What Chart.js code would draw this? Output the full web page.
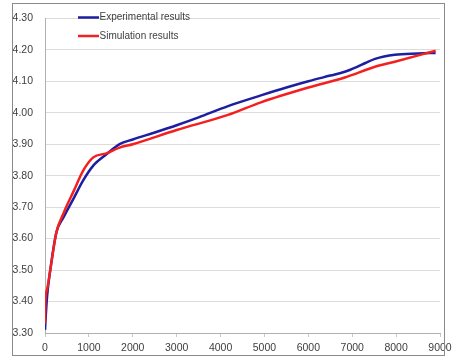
<!DOCTYPE html>
<html>
<head>
<meta charset="utf-8">
<script src="https://cdn.jsdelivr.net/npm/chart.js@4.4.0/dist/chart.umd.min.js"></script>
<style>
  html, body { margin: 0; padding: 0; background: #fff; }
  #wrap { position: relative; width: 457px; height: 360px; }
  #frame { position: absolute; left: 12px; top: 3px; width: 433px; height: 353px; border: 1px solid #8a8a8a; box-sizing: border-box; pointer-events: none; }
  canvas { position: absolute; left: 0; top: 0; }
</style>
</head>
<body>
<div id="wrap">
  <canvas id="c" width="457" height="360"></canvas>
  <div id="frame"></div>
</div>
<script>
// Data
const seriesNames = ['Experimental results', 'Simulation results'];

const expX = [0, 20, 50, 120, 260, 420, 650, 870, 1100, 1400, 1700, 2000, 2500, 3000, 3500, 4170, 4920, 5500, 6000, 6500, 6830, 7100, 7300, 7520, 7970, 8500, 8900];
const expY = [3.31, 3.36, 3.42, 3.50, 3.62, 3.667, 3.727, 3.785, 3.832, 3.868, 3.90, 3.915, 3.937, 3.96, 3.985, 4.021, 4.055, 4.08, 4.10, 4.118, 4.13, 4.145, 4.158, 4.171, 4.184, 4.188, 4.19];

const simX = [0, 10, 50, 120, 260, 420, 650, 870, 1100, 1400, 1700, 2000, 3000, 4170, 4920, 6000, 6830, 7520, 7970, 8900];
const simY = [3.33, 3.40, 3.44, 3.50, 3.62, 3.68, 3.75, 3.816, 3.858, 3.871, 3.889, 3.90, 3.945, 3.993, 4.033, 4.08, 4.112, 4.146, 4.162, 4.197];

const xTicks = [0, 1000, 2000, 3000, 4000, 5000, 6000, 7000, 8000, 9000];
const yTicks = [3.30, 3.40, 3.50, 3.60, 3.70, 3.80, 3.90, 4.00, 4.10, 4.20, 4.30];

const toPoints = (xs, ys) => xs.map((x, i) => ({ x: x, y: ys[i] }));

const FONT = 'Liberation Sans, Arial, sans-serif';

const legendPlugin = {
  id: 'insideLegend',
  afterDraw(chart) {
    const ctx = chart.ctx;
    ctx.save();
    chart.data.datasets.forEach((ds, i) => {
      const y = 17.5 + i * 18.5;
      ctx.strokeStyle = ds.borderColor;
      ctx.lineWidth = 2.5;
      ctx.beginPath();
      ctx.moveTo(78, y);
      ctx.lineTo(99, y);
      ctx.stroke();
      ctx.fillStyle = '#404040';
      ctx.font = '10px ' + FONT;
      ctx.textBaseline = 'middle';
      ctx.textAlign = 'left';
      ctx.fillText(ds.label, 99.5, y);
    });
    ctx.restore();
  }
};

new Chart(document.getElementById('c'), {
  type: 'scatter',
  data: {
    datasets: [
      { label: seriesNames[0], data: toPoints(expX, expY), showLine: true, borderColor: '#1e1ea0', backgroundColor: '#1e1ea0', borderWidth: 2.5, pointRadius: 0, tension: 0.4, cubicInterpolationMode: 'monotone', order: 1 },
      { label: seriesNames[1], data: toPoints(simX, simY), showLine: true, borderColor: '#f42020', backgroundColor: '#f42020', borderWidth: 2.5, pointRadius: 0, tension: 0.4, cubicInterpolationMode: 'monotone', order: 0 }
    ]
  },
  options: {
    responsive: false,
    animation: false,
    layout: { padding: { left: 0, right: 17, top: 14, bottom: 0 } },
    plugins: { legend: { display: false }, tooltip: { enabled: false } },
    scales: {
      x: {
        type: 'linear',
        min: 0, max: 9000,
        afterBuildTicks: (s) => { s.ticks = xTicks.map(v => ({ value: v })); },
        afterFit: (s) => { s.height = 27; },
        grid: { drawOnChartArea: false, drawTicks: true, tickLength: 4, color: '#c8c8c8' },
        border: { display: true, color: '#b0b0b0', width: 1 },
        ticks: { color: '#404040', font: { family: FONT, size: 10.5 }, padding: 5, maxRotation: 0, autoSkip: false, callback: (v) => String(v) }
      },
      y: {
        type: 'linear',
        min: 3.3, max: 4.3,
        afterBuildTicks: (s) => { s.ticks = yTicks.map(v => ({ value: v })); },
        afterFit: (s) => { s.width = 45; },
        grid: { drawTicks: false, color: '#dcdcdc', lineWidth: 1 },
        border: { display: true, color: '#b0b0b0', width: 1 },
        ticks: { color: '#404040', font: { family: FONT, size: 10.5 }, padding: 12, autoSkip: false, callback: (v) => v.toFixed(2) }
      }
    }
  },
  plugins: [legendPlugin]
});
</script>
</body>
</html>
